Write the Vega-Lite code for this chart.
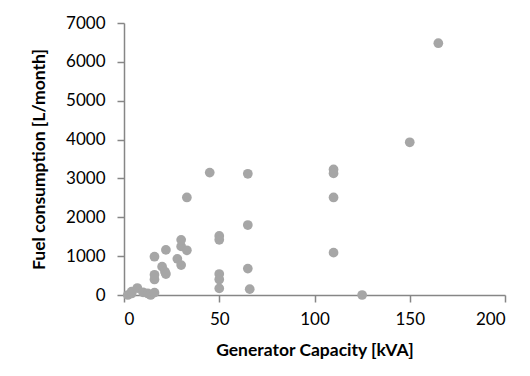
{
  "$schema": "https://vega.github.io/schema/vega-lite/v6.json",
  "autosize": {"type": "none"},
  "width": 381,
  "height": 272,
  "padding": {"left": 124, "top": 23, "right": 25, "bottom": 81},
  "background": "white",
  "config": {
    "view": {"stroke": null},
    "font": "Lato",
    "axis": {
      "grid": false,
      "domainColor": "#868686",
      "domainWidth": 1.5,
      "tickColor": "#868686",
      "tickWidth": 1.5,
      "tickSize": 7,
      "labelFont": "Lato",
      "labelFontSize": 17,
      "labelColor": "#000000",
      "titleFont": "Lato",
      "titleFontSize": 17.5,
      "titleFontWeight": "bold",
      "titleColor": "#000000"
    }
  },
  "data": {
    "values": [
      {"capacity": 2, "fuel": 0},
      {"capacity": 4, "fuel": 40},
      {"capacity": 4, "fuel": 85},
      {"capacity": 7, "fuel": 180},
      {"capacity": 10, "fuel": 70},
      {"capacity": 12.5, "fuel": 40},
      {"capacity": 14, "fuel": 0},
      {"capacity": 16, "fuel": 60},
      {"capacity": 16, "fuel": 400},
      {"capacity": 16, "fuel": 520},
      {"capacity": 16, "fuel": 985},
      {"capacity": 20, "fuel": 730},
      {"capacity": 21.5, "fuel": 600},
      {"capacity": 22, "fuel": 540},
      {"capacity": 22, "fuel": 1160},
      {"capacity": 28, "fuel": 930},
      {"capacity": 30, "fuel": 770},
      {"capacity": 30, "fuel": 1250},
      {"capacity": 30, "fuel": 1420},
      {"capacity": 33, "fuel": 1150},
      {"capacity": 33, "fuel": 2510},
      {"capacity": 45, "fuel": 3150},
      {"capacity": 50, "fuel": 1520},
      {"capacity": 50, "fuel": 1420},
      {"capacity": 50, "fuel": 540},
      {"capacity": 50, "fuel": 400},
      {"capacity": 50, "fuel": 170},
      {"capacity": 65, "fuel": 3120},
      {"capacity": 65, "fuel": 1800},
      {"capacity": 65, "fuel": 680},
      {"capacity": 66, "fuel": 150},
      {"capacity": 110, "fuel": 3230},
      {"capacity": 110, "fuel": 3130},
      {"capacity": 110, "fuel": 2510},
      {"capacity": 110, "fuel": 1090},
      {"capacity": 125, "fuel": 0},
      {"capacity": 150, "fuel": 3930},
      {"capacity": 165, "fuel": 6480}
    ]
  },
  "mark": {"type": "circle", "size": 95, "color": "#A6A6A6", "opacity": 1},
  "encoding": {
    "x": {
      "field": "capacity",
      "type": "quantitative",
      "scale": {"domain": [0, 200], "nice": false, "zero": true},
      "axis": {"values": [0, 50, 100, 150, 200], "format": "d", "title": "Generator Capacity [kVA]", "labelPadding": 9, "titlePadding": 14}
    },
    "y": {
      "field": "fuel",
      "type": "quantitative",
      "scale": {"domain": [0, 7000], "nice": false},
      "axis": {"values": [0, 1000, 2000, 3000, 4000, 5000, 6000, 7000], "format": "d", "title": "Fuel consumption [L/month]", "labelPadding": 12, "titlePadding": 17}
    }
  }
}
